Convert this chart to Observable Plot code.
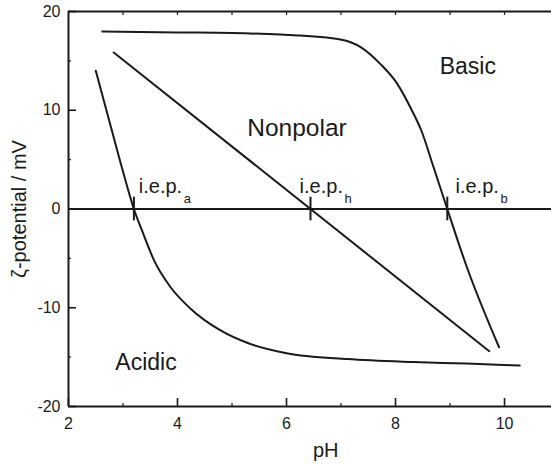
<!DOCTYPE html>
<html><head><meta charset="utf-8">
<script src="https://cdn.jsdelivr.net/npm/d3@7"></script>
<script src="https://cdn.jsdelivr.net/npm/@observablehq/plot@0.6"></script>
<style>html,body{margin:0;padding:0;background:#fff;overflow:hidden}#chart svg{display:block}</style>
</head><body><div id="chart"></div>
<script>
// Basic surface curve
const basicPH   = [2.62, 4.00, 5.00, 5.89, 6.26, 6.99, 7.36, 7.72, 8.03, 8.29, 8.47, 8.70, 8.95, 9.31, 9.90];
const basicZeta = [17.97, 17.88, 17.82, 17.67, 17.57, 17.17, 16.4, 14.7, 12.7, 10.1, 8.0, 4.2, 0.0, -5.9, -14.0];
// Acidic surface curve
const acidicPH   = [2.50, 2.93, 3.06, 3.20, 3.35, 3.57, 3.87, 4.24, 4.79, 5.30, 6.00, 7.12, 8.33, 9.30, 10.28];
const acidicZeta = [14.0, 5.2, 2.6, 0.0, -2.2, -5.2, -7.9, -10.1, -12.3, -13.6, -14.6, -15.2, -15.5, -15.65, -15.85];
// Nonpolar (straight line)
const nonpolarPH   = [2.83, 9.72];
const nonpolarZeta = [15.85, -14.4];
// Isoelectric points
const iepSub = ["a", "h", "b"];
const iepPH  = [3.20, 6.44, 8.95];
const iepLabelPH = [3.29, 6.24, 9.10];
const iepLabelZeta = 1.65;
// Region labels
const regionNames = ["Basic", "Nonpolar", "Acidic"];
const regionPH    = [8.81, 5.28, 2.86];
const regionZeta  = [13.72, 7.44, -16.28];
const regionSize  = [23, 24.5, 23];
// Axes
const xDomain = [2, 10.862];
const yDomain = [-20, 20];
const xTicks = [2, 4, 6, 8, 10];
const xMinor = [3, 5, 7, 9];
const xTopTicks = [3, 4, 5, 6, 7, 8, 9, 10];
const yTicks = [-20, -10, 0, 10, 20];
const yMinor = [-15, -5, 5, 15];
const xLabel = "pH";
const yLabel = "ζ-potential / mV";
const xLabelPH = 6.72;

const zip = (xs, ys) => xs.map((x, i) => ({x, y: ys[i]}));
const basic = zip(basicPH, basicZeta);
const acidic = zip(acidicPH, acidicZeta);
const nonpolar = zip(nonpolarPH, nonpolarZeta);
const regions = regionNames.map((t, i) => ({t, x: regionPH[i], y: regionZeta[i], s: regionSize[i]}));
const iepLabels = iepSub.map((s, i) => ({s, x: iepLabelPH[i], y: iepLabelZeta}));

const ink = "#1a1a1a";
const fmt = d => String(d);

const chart = Plot.plot({
  width: 551,
  height: 464,
  marginLeft: 68,
  marginRight: 0,
  marginTop: 11,
  marginBottom: 58,
  style: {fontFamily: "'Liberation Sans', Arial, Helvetica, sans-serif", fontSize: "16px", color: ink, background: "#fff"},
  x: {domain: xDomain},
  y: {domain: yDomain},
  marks: [
    // frame
    Plot.ruleY([yDomain[0], yDomain[1]], {stroke: ink, strokeWidth: 2}),
    Plot.ruleX([xDomain[0]], {stroke: ink, strokeWidth: 2}),
    // ticks (inward)
    Plot.axisX({anchor: "bottom", ticks: xTicks, tickSize: -8, text: null, label: null, stroke: ink, strokeWidth: 1.6}),
    Plot.axisX({anchor: "bottom", ticks: xMinor, tickSize: -3, text: null, label: null, stroke: ink, strokeWidth: 1.2}),
    Plot.axisX({anchor: "top", ticks: xTopTicks, tickSize: -3, text: null, label: null, stroke: ink, strokeWidth: 1.2}),
    Plot.axisX({anchor: "bottom", ticks: xTicks, tickSize: 0, tickPadding: 11, tickFormat: fmt, label: null, fontSize: 16, fill: ink}),
    Plot.axisY({anchor: "left", ticks: yTicks, tickSize: -8, text: null, label: null, stroke: ink, strokeWidth: 1.6}),
    Plot.axisY({anchor: "left", ticks: yMinor, tickSize: -3, text: null, label: null, stroke: ink, strokeWidth: 1.2}),
    Plot.axisY({anchor: "left", ticks: yTicks, tickSize: 0, tickPadding: 8, tickFormat: fmt, label: null, fontSize: 16, fill: ink}),
    // axis titles
    Plot.text([xLabel], {x: xLabelPH, frameAnchor: "bottom", dy: 50, lineAnchor: "bottom", fontSize: 20, fill: ink}),
    Plot.text([yLabel], {y: 0, frameAnchor: "left", dx: -43, rotate: -90, lineAnchor: "bottom", textAnchor: "middle", fontSize: 20, fill: ink}),
    // zero line
    Plot.ruleY([0], {stroke: ink, strokeWidth: 2}),
    // curves
    Plot.line(basic, {x: "x", y: "y", curve: "monotone-x", stroke: ink, strokeWidth: 2}),
    Plot.line(acidic, {x: "x", y: "y", curve: "monotone-x", stroke: ink, strokeWidth: 2}),
    Plot.line(nonpolar, {x: "x", y: "y", stroke: ink, strokeWidth: 2}),
    // iep markers
    Plot.ruleX(iepPH, {y1: -1.2, y2: 1.2, stroke: ink, strokeWidth: 2}),
    // labels
    Plot.text(iepLabels, {x: "x", y: "y", text: () => "i.e.p.", textAnchor: "start", lineAnchor: "bottom", fontSize: 20, fill: ink}),
    Plot.text(iepLabels, {x: "x", y: "y", text: "s", textAnchor: "start", lineAnchor: "bottom", dx: 45, dy: 10, fontSize: 13, fill: ink}),
    Plot.text(regions, {x: "x", y: "y", text: "t", textAnchor: "start", lineAnchor: "bottom", fontSize: "s", fill: ink})
  ]
});
document.getElementById("chart").append(chart);
</script>
</body></html>
